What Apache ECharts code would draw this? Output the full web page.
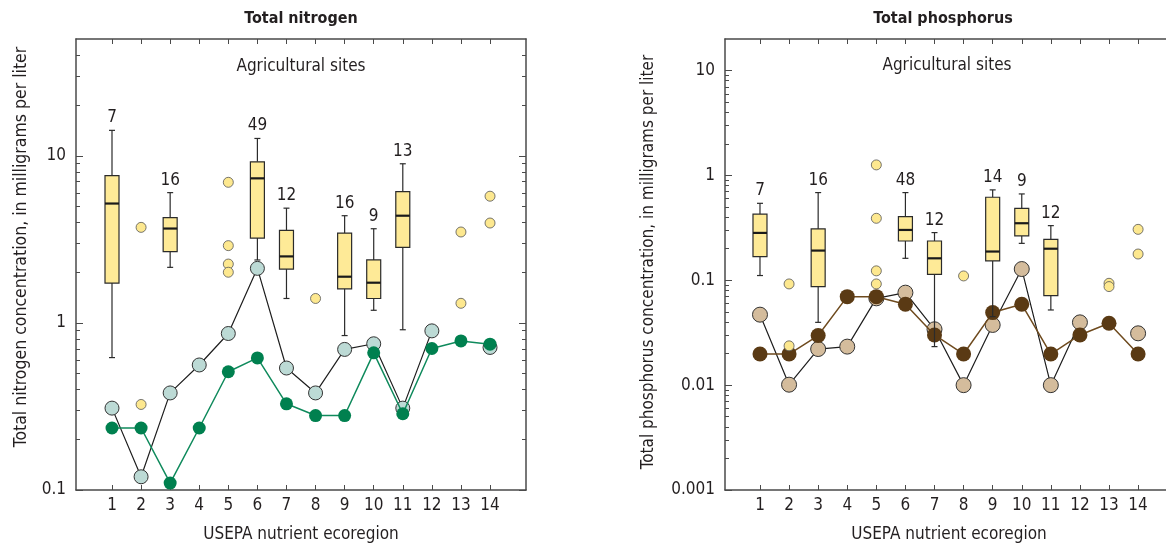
<!DOCTYPE html>
<html>
<head>
<meta charset="utf-8">
<script src="https://cdn.jsdelivr.net/npm/echarts@6/dist/echarts.min.js"></script>
<style>
  html, body { margin: 0; padding: 0; background: #fff; }
  #chart { width: 1166px; height: 548px; }
</style>
</head>
<body>
<div id="chart"></div>
<script>
// ecoregions on the x axis
const ecoregions = [1, 2, 3, 4, 5, 6, 7, 8, 9, 10, 11, 12, 13, 14];

// total nitrogen, boxes
const nBoxRegion = [1, 3, 6, 7, 9, 10, 11];
const nBoxLow = [0.62, 2.15, 2.38, 1.40, 0.84, 1.19, 0.91];
const nBoxQ1 = [1.73, 2.67, 3.22, 2.10, 1.60, 1.40, 2.83];
const nBoxMedian = [5.18, 3.67, 7.33, 2.50, 1.89, 1.74, 4.38];
const nBoxQ3 = [7.6, 4.26, 9.2, 3.58, 3.45, 2.38, 6.1];
const nBoxHigh = [14.2, 6.02, 12.7, 4.86, 4.38, 3.66, 8.96];
const nBoxCount = [7, 16, 49, 12, 16, 9, 13];
const nOutlierRegion = [2, 2, 5, 5, 5, 5, 8, 13, 13, 14, 14];
const nOutlierValue = [3.73, 0.325, 6.94, 2.90, 2.25, 2.01, 1.40, 3.5, 1.31, 5.73, 3.96];
const nLight = [0.309, 0.12, 0.381, 0.56, 0.864, 2.12, 0.537, 0.381, 0.694, 0.75, 0.309, 0.896, null, 0.713];
const nGreen = [0.235, 0.235, 0.11, 0.235, 0.51, 0.617, 0.328, 0.279, 0.279, 0.662, 0.286, 0.703, 0.78, 0.746];

// total phosphorus, boxes
const pBoxRegion = [1, 3, 6, 7, 9, 10, 11];
const pBoxLow = [0.111, 0.0397, 0.162, 0.0233, 0.045, 0.225, 0.0521];
const pBoxQ1 = [0.168, 0.0871, 0.237, 0.114, 0.153, 0.265, 0.0714];
const pBoxMedian = [0.283, 0.192, 0.302, 0.162, 0.188, 0.350, 0.2];
const pBoxQ3 = [0.427, 0.309, 0.405, 0.237, 0.619, 0.486, 0.246];
const pBoxHigh = [0.542, 0.686, 0.686, 0.285, 0.728, 0.666, 0.332];
const pBoxCount = [7, 16, 48, 12, 14, 9, 12];
const pOutlierRegion = [2, 2, 5, 5, 5, 5, 8, 13, 13, 14, 14];
const pOutlierValue = [0.0923, 0.0237, 1.26, 0.390, 0.123, 0.0923, 0.110, 0.0936, 0.0871, 0.306, 0.178];
const pTan = [0.047, 0.0101, 0.0221, 0.0233, 0.0673, 0.0762, 0.0341, 0.01, 0.0375, 0.128, 0.01, 0.0397, null, 0.0312];
const pBrown = [0.0198, 0.0198, 0.0297, 0.0698, 0.0698, 0.059, 0.0301, 0.0198, 0.0492, 0.059, 0.0198, 0.0301, 0.0389, 0.0198];

// tick values
const nMajorTicks = [0.1, 1, 10];
const nMinorTicks = [0.2, 0.3, 0.4, 0.5, 0.6, 0.7, 0.8, 0.9, 2, 3, 4, 5, 6, 7, 8, 9, 20, 30, 40];
const pMajorTicks = [0.001, 0.01, 0.1, 1, 10];
const pMinorTicks = [0.002, 0.003, 0.004, 0.005, 0.006, 0.007, 0.008, 0.009,
  0.02, 0.03, 0.04, 0.05, 0.06, 0.07, 0.08, 0.09,
  0.2, 0.3, 0.4, 0.5, 0.6, 0.7, 0.8, 0.9, 2, 3, 4, 5, 6, 7, 8, 9];

const FONT = "'Liberation Sans Narrow', 'DejaVu Sans Condensed', sans-serif";
const TEXT = '#231f20';
const AXIS = '#4a4a4a';

function pairs(xs, ys) {
  return xs.map((x, i) => [x, ys[i] == null ? '-' : ys[i]]);
}

function boxData(reg, lo, q1, med, q3, hi, cnt) {
  return reg.map((r, i) => [r, lo[i], q1[i], med[i], q3[i], hi[i], cnt[i]]);
}

function renderBox(params, api) {
  const x = api.value(0);
  const lo = api.coord([x, api.value(1)]);
  const q1 = api.coord([x, api.value(2)]);
  const med = api.coord([x, api.value(3)]);
  const q3 = api.coord([x, api.value(4)]);
  const hi = api.coord([x, api.value(5)]);
  const cx = lo[0];
  const half = 7, cap = 3;
  const stroke = { stroke: '#2b2b2b', lineWidth: 1.2 };
  return {
    type: 'group',
    children: [
      { type: 'line', shape: { x1: cx, y1: hi[1], x2: cx, y2: q3[1] }, style: stroke },
      { type: 'line', shape: { x1: cx, y1: q1[1], x2: cx, y2: lo[1] }, style: stroke },
      { type: 'line', shape: { x1: cx - cap, y1: hi[1], x2: cx + cap, y2: hi[1] }, style: stroke },
      { type: 'line', shape: { x1: cx - cap, y1: lo[1], x2: cx + cap, y2: lo[1] }, style: stroke },
      { type: 'rect', shape: { x: cx - half, y: q3[1], width: half * 2, height: q1[1] - q3[1] },
        style: { fill: '#feea97', stroke: '#2b2b2b', lineWidth: 1.2 } },
      { type: 'line', shape: { x1: cx - half, y1: med[1], x2: cx + half, y2: med[1] },
        style: { stroke: '#1a1a1a', lineWidth: 2.2 } },
      { type: 'text', style: { text: String(api.value(6)), x: cx, y: hi[1] - 4,
        align: 'center', verticalAlign: 'bottom', fill: TEXT, font: '17px ' + FONT } }
    ]
  };
}

function xAxes(grid, min, max) {
  return [
    {
      gridIndex: grid, type: 'value', position: 'bottom', min: min, max: max,
      axisLine: { show: true, onZero: false, lineStyle: { color: AXIS, width: 1.5 } },
      axisTick: { show: true, inside: true, length: 5, customValues: ecoregions, lineStyle: { color: AXIS } },
      axisLabel: { show: true, customValues: ecoregions, margin: 7, color: TEXT, fontSize: 17, fontFamily: FONT },
      splitLine: { show: false },
      name: 'USEPA nutrient ecoregion', nameLocation: 'middle', nameGap: 36,
      nameTextStyle: { color: TEXT, fontSize: 17, fontFamily: FONT }
    },
    {
      gridIndex: grid, type: 'value', position: 'top', min: min, max: max,
      axisLine: { show: true, onZero: false, lineStyle: { color: AXIS, width: 1.5 } },
      axisTick: { show: true, inside: true, length: 5, customValues: ecoregions, lineStyle: { color: AXIS } },
      axisLabel: { show: false }, splitLine: { show: false }
    }
  ];
}

function yAxes(grid, min, max, major, minor, sides) {
  const list = [];
  sides.forEach(function (side) {
    list.push({
      gridIndex: grid, type: 'log', position: side, min: min, max: max,
      axisLine: { show: true, onZero: false, lineStyle: { color: AXIS, width: 1.5 } },
      axisTick: { show: true, inside: true, length: 7, customValues: major, lineStyle: { color: AXIS } },
      axisLabel: { show: side === 'left', customValues: major, margin: 10, color: TEXT, fontSize: 17, fontFamily: FONT,
        formatter: function (v) { return String(+v.toPrecision(3)); } },
      splitLine: { show: false }
    });
    list.push({
      gridIndex: grid, type: 'log', position: side, min: min, max: max,
      axisLine: { show: false, onZero: false },
      axisTick: { show: true, inside: true, length: 4, customValues: minor, lineStyle: { color: AXIS } },
      axisLabel: { show: false }, splitLine: { show: false }
    });
  });
  return list;
}

const chart = echarts.init(document.getElementById('chart'));

const option = {
  backgroundColor: '#fff',
  animation: false,
  textStyle: { fontFamily: FONT },
  grid: [
    { left: 76, top: 39, width: 450, height: 451, outerBoundsMode: 'none', show: false },
    { left: 725, top: 39, width: 448, height: 451, outerBoundsMode: 'none', show: false }
  ],
  xAxis: xAxes(0, -0.238, 15.237).concat(xAxes(1, -0.203, 15.2)),
  yAxis: yAxes(0, 0.1, 50, nMajorTicks, nMinorTicks, ['left', 'right'])
    .concat(yAxes(1, 0.001, 20, pMajorTicks, pMinorTicks, ['left'])),
  graphic: [
    { type: 'text', x: 301, y: 19, style: { text: 'Total nitrogen', align: 'center', verticalAlign: 'middle', fill: TEXT, font: 'bold 16px ' + FONT } },
    { type: 'text', x: 943, y: 19, style: { text: 'Total phosphorus', align: 'center', verticalAlign: 'middle', fill: TEXT, font: 'bold 16px ' + FONT } },
    { type: 'text', x: 301, y: 67, style: { text: 'Agricultural sites', align: 'center', verticalAlign: 'middle', fill: TEXT, font: '17px ' + FONT } },
    { type: 'text', x: 947, y: 66, style: { text: 'Agricultural sites', align: 'center', verticalAlign: 'middle', fill: TEXT, font: '17px ' + FONT } },
    { type: 'text', x: 21, y: 247, rotation: Math.PI / 2, style: { text: 'Total nitrogen concentration, in milligrams per liter', align: 'center', verticalAlign: 'middle', fill: TEXT, font: '17.5px ' + FONT } },
    { type: 'text', x: 649, y: 262, rotation: Math.PI / 2, style: { text: 'Total phosphorus concentration, in milligrams per liter', align: 'center', verticalAlign: 'middle', fill: TEXT, font: '17px ' + FONT } }
  ],
  series: [
    {
      name: 'N light', type: 'line', xAxisIndex: 0, yAxisIndex: 0, z: 2,
      data: pairs(ecoregions, nLight), connectNulls: false,
      symbol: 'circle', symbolSize: 14,
      lineStyle: { color: '#1e1e1e', width: 1.2 },
      itemStyle: { color: '#bcdad5', borderColor: '#333', borderWidth: 1 }
    },
    {
      name: 'N green', type: 'line', xAxisIndex: 0, yAxisIndex: 0, z: 3,
      data: pairs(ecoregions, nGreen),
      symbol: 'circle', symbolSize: 13,
      lineStyle: { color: '#0f8a5c', width: 1.5 },
      itemStyle: { color: '#00804f', borderWidth: 0 }
    },
    {
      name: 'N boxes', type: 'custom', xAxisIndex: 0, yAxisIndex: 0, z: 4,
      renderItem: renderBox, encode: { x: 0, y: [1, 2, 3, 4, 5] },
      data: boxData(nBoxRegion, nBoxLow, nBoxQ1, nBoxMedian, nBoxQ3, nBoxHigh, nBoxCount)
    },
    {
      name: 'N outliers', type: 'scatter', xAxisIndex: 0, yAxisIndex: 0, z: 5,
      data: pairs(nOutlierRegion, nOutlierValue), symbolSize: 10,
      itemStyle: { color: '#fde88f', borderColor: '#555', borderWidth: 0.8, opacity: 1 }
    },
    {
      name: 'P tan', type: 'line', xAxisIndex: 2, yAxisIndex: 4, z: 2,
      data: pairs(ecoregions, pTan), connectNulls: false,
      symbol: 'circle', symbolSize: 15,
      lineStyle: { color: '#1e1e1e', width: 1.2 },
      itemStyle: { color: '#d4bc9c', borderColor: '#333', borderWidth: 1 }
    },
    {
      name: 'P brown', type: 'line', xAxisIndex: 2, yAxisIndex: 4, z: 3,
      data: pairs(ecoregions, pBrown),
      symbol: 'circle', symbolSize: 15,
      lineStyle: { color: '#6e4a1e', width: 1.5 },
      itemStyle: { color: '#5a3a14', borderWidth: 0 }
    },
    {
      name: 'P boxes', type: 'custom', xAxisIndex: 2, yAxisIndex: 4, z: 4,
      renderItem: renderBox, encode: { x: 0, y: [1, 2, 3, 4, 5] },
      data: boxData(pBoxRegion, pBoxLow, pBoxQ1, pBoxMedian, pBoxQ3, pBoxHigh, pBoxCount)
    },
    {
      name: 'P outliers', type: 'scatter', xAxisIndex: 2, yAxisIndex: 4, z: 5,
      data: pairs(pOutlierRegion, pOutlierValue), symbolSize: 10,
      itemStyle: { color: '#fde88f', borderColor: '#555', borderWidth: 0.8, opacity: 1 }
    }
  ]
};

chart.setOption(option);
</script>
</body>
</html>
